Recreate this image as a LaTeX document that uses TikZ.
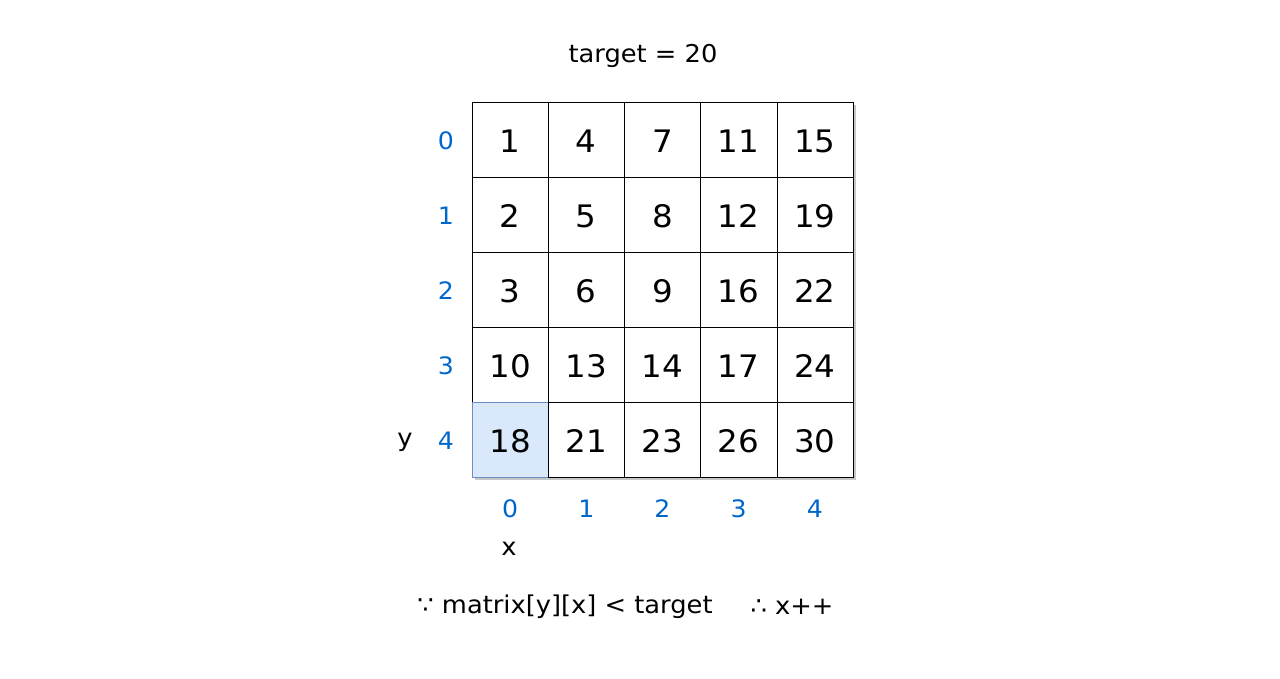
\documentclass[tikz,border=0pt]{standalone}
\usepackage{fontspec}
\setmainfont{DejaVu Sans}[FakeStretch=1.05]
\usetikzlibrary{math}
\definecolor{idxblue}{HTML}{0066CC}
\definecolor{hlfill}{HTML}{DAE8FC}
\definecolor{hldraw}{HTML}{6C8EBF}

\begin{document}
\begin{tikzpicture}[x=1pt,y=-1pt,
    cell/.style={draw=black, fill=white, minimum width=76.2pt, minimum height=75pt, inner sep=0pt, font=\fontsize{31}{31}\selectfont},
    hl/.style={cell, draw=hldraw, fill=hlfill},
    idx/.style={text=idxblue, inner sep=0pt, font=\fontsize{24}{24}\selectfont},
    lbl/.style={inner sep=0pt, font=\fontsize{24.5}{24.5}\selectfont}]
  \useasboundingbox (0,0) rectangle (1280,679);
  \tikzmath{\w = 76.2; \h = 75; \xo = 472; \yo = 102;}
  % shadow of the grid
  \fill[black!22] (\xo+3,\yo+3) rectangle (\xo+5*\w+3,\yo+5*\h+3);
  % cells
  \foreach \row [count=\r from 0] in {{1,4,7,11,15},{2,5,8,12,19},{3,6,9,16,22},{10,13,14,17,24},{18,21,23,26,30}}
  {
    \foreach \v [count=\c from 0] in \row
    {
      \ifnum\r=4 \ifnum\c=0 \def\sty{hl}\else\def\sty{cell}\fi\else\def\sty{cell}\fi
      \node[\sty] (c-\r-\c) at ({\xo+(\c+0.5)*\w},{\yo+(\r+0.5)*\h}) {};
      \node[font=\fontsize{31}{31}\selectfont, inner sep=0pt] (v-\r-\c) at ([yshift=-1.5pt]c-\r-\c.center) {\v};
    }
  }
  % indices
  \foreach \i in {0,...,4}
  {
    \node[idx] (row-\i) at (446,{\yo+(\i+0.5)*\h+1}) {\i};
    \node[idx] (col-\i) at ({\xo+(\i+0.5)*\w},509) {\i};
  }
  \node[lbl] (ylabel) at (405,442) {y};
  \node[lbl] (xlabel) at (509,549) {x};
  \node[lbl] (target) at (643,56) {target = 20};
  \node[lbl] (because) at (565,607) {∵ matrix[y][x] < target};
  \node[lbl] (therefore) at (792,607) {∴ x++};
\end{tikzpicture}
\end{document}
